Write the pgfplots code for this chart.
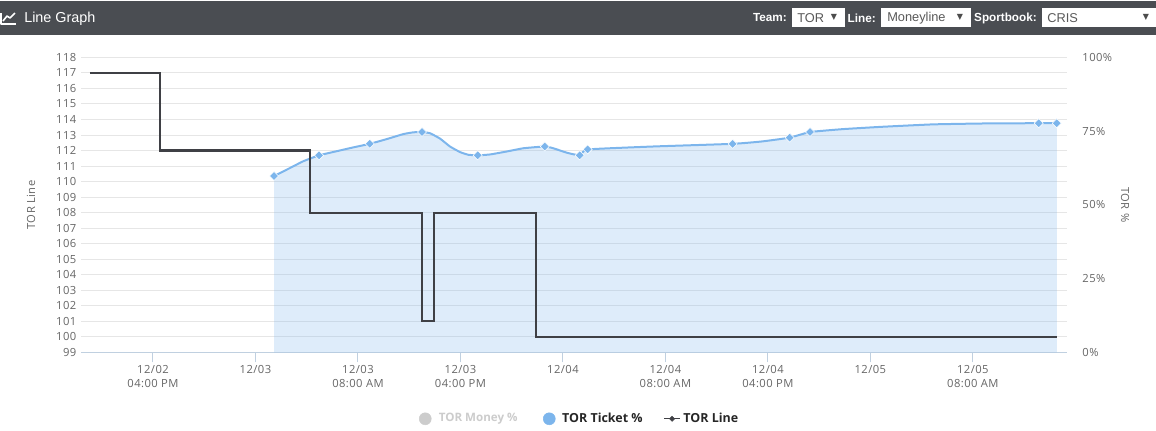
\documentclass[border=0pt]{standalone}
\usepackage{fontspec}
\setmainfont{Liberation Sans}
\newfontfamily\chartfont[LetterSpace=4]{Open Sans}
\newfontfamily\legendfont{Open Sans}
\newfontfamily\symfont{DejaVu Sans}
\usepackage{pgfplots}
\pgfplotsset{compat=1.18}

\definecolor{headbar}{HTML}{4A4D52}
\definecolor{gridc}{HTML}{E6E6E6}
\definecolor{tickc}{HTML}{666666}
\definecolor{axisc}{HTML}{C0D0E0}
\definecolor{ticket}{HTML}{7CB5EC}
\definecolor{linec}{HTML}{3F4045}
\definecolor{moneyc}{HTML}{CCCCCC}

% hours since 12/02 00:00, the marked readings
\pgfplotstableread{
h pct
25.45 59.8
28.96 66.8
32.92 70.7
37.00 74.7
41.35 66.8
46.58 69.8
49.31 66.8
49.93 68.8
61.25 70.7
65.70 72.8
67.29 74.7
85.14 77.7
86.55 77.7
}\ticketdata

% the same curve
\pgfplotstableread{
h pct
25.45 59.8
26.69 62.5
27.73 64.8
28.96 66.8
30.34 68.2
31.64 69.5
32.92 70.7
34.24 72.3
35.54 74.0
36.32 74.6
37.00 74.7
37.62 74.3
38.40 72.5
39.18 69.8
39.97 67.9
40.61 67.0
41.35 66.8
42.31 67.1
43.61 68.1
44.91 69.2
46.58 69.8
47.25 69.2
48.30 67.7
49.31 66.8
49.93 68.8
55.05 69.8
61.25 70.7
63.52 71.5
65.70 72.8
67.29 74.7
69.89 75.7
73.01 76.5
76.91 77.3
80.82 77.6
85.14 77.7
86.55 77.7
}\ticketcurve

\pgfplotstableread{
h line
11.08 117
16.55 112
28.26 108
37.00 101
37.94 108
45.90 100
86.57 100
}\linedata

\pgfplotsset{
  base/.style={
    at={(60.75pt,58.2pt)}, anchor=south west,
    scale only axis, width=739.5pt, height=221.25pt,
    xmin=10.38, xmax=87.35, clip=false,
    /pgf/number format/assume math mode=true,
    tick label style={font=\chartfont\fontsize{8.4}{10.5}\selectfont, text=tickc},
    label style={font=\chartfont\fontsize{8.4}{11}\selectfont, text=tickc},
  }
}

\begin{document}
\begin{tikzpicture}
\path[use as bounding box] (0,0) rectangle (867pt,322.5pt);

% header bar
\begin{scope}[x=0.75pt,y=-0.75pt,yshift=322.5pt]
  \fill[headbar] (0,1) rectangle (1156,35);
  \draw[white,line width=1pt,line join=round] (1,13) -- (1,24) -- (16,24);
  \draw[white,line width=1.2pt,line join=round] (3,21) -- (7,16) -- (10,18) -- (15,13);
  \node[anchor=west,text=white,inner sep=0pt,font=\fontsize{10.8}{12}\selectfont] at (24,19) {Line Graph};
  \node[anchor=east,text=white,inner sep=0pt,font=\bfseries\fontsize{8.8}{11}\selectfont] at (787,18) {Team:};
  \node[anchor=east,text=white,inner sep=0pt,font=\bfseries\fontsize{8.8}{11}\selectfont] at (876,18) {Line:};
  \node[anchor=east,text=white,inner sep=0pt,font=\bfseries\fontsize{8.8}{11}\selectfont] at (1037,18) {Sportbook:};
  \fill[white] (792,8) rectangle (845,27);
  \fill[white] (881,8) rectangle (971,27);
  \fill[white] (1042,8) rectangle (1156,27);
  \node[anchor=west,text=black!65,inner sep=0pt,font=\fontsize{9.6}{11}\selectfont] at (797,18.5) {TOR};
  \node[anchor=west,text=black!65,inner sep=0pt,font=\fontsize{9.6}{11}\selectfont] at (887,18.5) {Moneyline};
  \node[anchor=west,text=black!65,inner sep=0pt,font=\fontsize{9.6}{11}\selectfont] at (1047,18.5) {CRIS};
  \node[text=black!70,inner sep=0pt,font=\symfont\fontsize{6}{7}\selectfont] at (834,17) {▼};
  \node[text=black!70,inner sep=0pt,font=\symfont\fontsize{6}{7}\selectfont] at (960,17) {▼};
  \node[text=black!70,inner sep=0pt,font=\symfont\fontsize{6}{7}\selectfont] at (1146,17) {▼};
\end{scope}

% left axis: grid, date ticks, legend
\begin{axis}[base,
  ymin=99, ymax=118,
  ytick={99,100,...,118},
  ymajorgrids, grid style={gridc,line width=0.75pt},
  axis y line*=left,
  axis x line*=bottom,
  y axis line style={draw=none},
  x axis line style={axisc,line width=0.75pt,-},
  ytick style={draw=none},
  xtick={16,24,32,40,48,56,64,72,80},
  xticklabels={12/02\\04:00 PM,12/03\\\strut,12/03\\08:00 AM,12/03\\04:00 PM,12/04\\\strut,12/04\\08:00 AM,12/04\\04:00 PM,12/05\\\strut,12/05\\08:00 AM},
  x tick label style={align=center},
  xtick style={axisc,line width=0.75pt},
  xtick align=outside,
  major tick length=7.5pt,
  xticklabel shift=-1.5pt,
  ylabel={TOR Line},
  ylabel style={at={(axis description cs:-0.0507,0.5)},anchor=center},
  legend columns=3,
  legend style={at={(0.506,-0.225)},anchor=center,draw=none,fill=none,
    font=\legendfont\bfseries\fontsize{9.35}{11}\selectfont,
    /tikz/column 2/.style={column sep=17pt},
    /tikz/column 4/.style={column sep=13.5pt}},
  legend cell align=left,
]
\addlegendimage{legend image code/.code={\fill[moneyc] (0,0) circle (4.5pt); \path (8pt,0);}}
\addlegendentry{\fontsize{8.7}{11}\selectfont\textcolor{moneyc}{TOR Money \%}}
\addlegendimage{legend image code/.code={\fill[ticket] (0,0) circle (4.5pt); \path (7.5pt,0);}}
\addlegendentry{\textcolor{black!85}{TOR Ticket \%}}
\addlegendimage{legend image code/.code={\draw[linec,line width=1pt] (0,0) -- (12pt,0);
  \fill[linec] (6pt,1.9pt) -- (7.9pt,0pt) -- (6pt,-1.9pt) -- (4.1pt,0pt) -- cycle;}}
\addlegendentry{\textcolor{black!85}{TOR Line}}
\end{axis}

% right axis: ticket share
\begin{axis}[base,
  ymin=0, ymax=100,
  axis x line=none,
  axis y line*=right,
  y axis line style={draw=none},
  ytick={0,25,50,75,100},
  yticklabel={\pgfmathprintnumber{\tick}\%},
  ytick style={draw=none},
  ylabel={TOR \%},
  ylabel style={at={(axis description cs:1.0588,0.5)},anchor=center,rotate=180},
  yticklabel style={anchor=west,xshift=8pt},
]
\addplot[draw=none,fill=ticket,fill opacity=0.25,smooth,tension=0.25,forget plot]
  table[x=h,y=pct] {\ticketcurve} \closedcycle;
\addplot[ticket,line width=1.5pt,smooth,tension=0.25,forget plot]
  table[x=h,y=pct] {\ticketcurve};
\addplot[only marks,mark=square*,mark size=2.4pt,
  mark options={fill=ticket,draw=white,line width=0.4pt,rotate=45}]
  table[x=h,y=pct] {\ticketdata};
\end{axis}

% line series on top
\begin{axis}[base,
  ymin=99, ymax=118,
  hide axis,
]
\addplot[linec,line width=1.7pt,const plot,line join=miter]
  table[x=h,y=line] {\linedata};
\end{axis}
\end{tikzpicture}
\end{document}
